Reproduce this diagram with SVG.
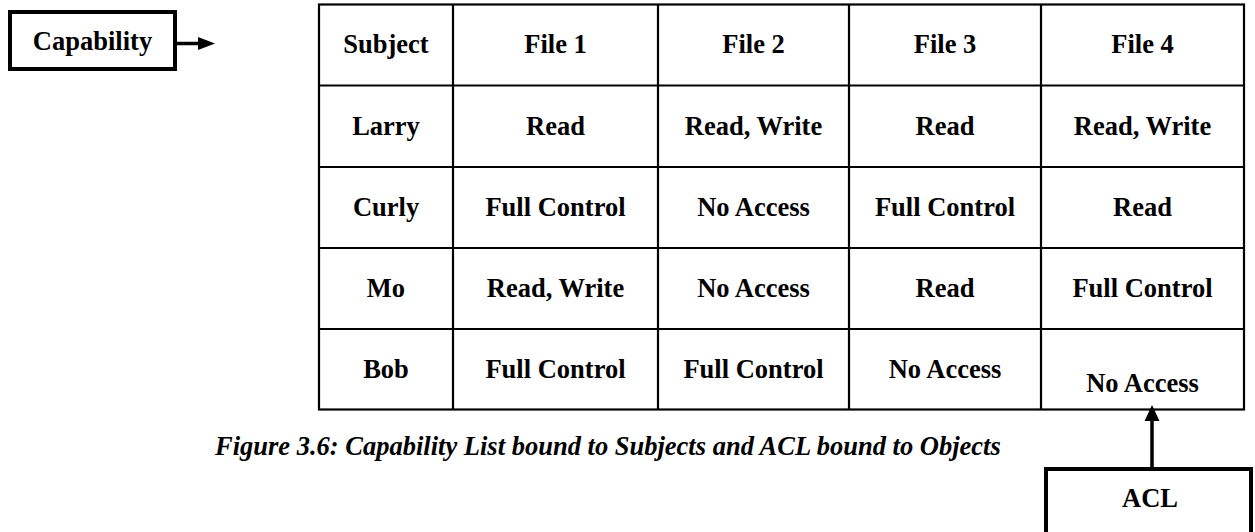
<svg xmlns="http://www.w3.org/2000/svg" width="1255" height="532" viewBox="0 0 1255 532">
  <defs>
    <style>
      text { font-family: "Liberation Serif", "Times New Roman", serif; font-weight: bold; font-size: 26.5px; fill: #000; text-anchor: middle; }
      .caption { font-style: italic; text-anchor: start; }
      .grid { stroke: #000; stroke-width: 2.2; fill: none; }
      .box { fill: #fff; stroke: #000; stroke-width: 4; }
      .wire { stroke: #000; stroke-width: 3.5; fill: none; }
      .tip { fill: #000; stroke: none; }
    </style>
  </defs>

  <rect width="1255" height="532" fill="#fff"/>

  <!-- access matrix -->
  <g id="matrix">
    <rect class="grid" x="319" y="4.5" width="925" height="405"/>
    <path class="grid" d="M453,4.5 V409.5 M658,4.5 V409.5 M849,4.5 V409.5 M1041,4.5 V409.5
                          M319,85.5 H1244 M319,167 H1244 M319,248 H1244 M319,329 H1244"/>
    <g id="header">
      <text x="386" y="53">Subject</text>
      <text x="555.5" y="53">File 1</text>
      <text x="753.5" y="53">File 2</text>
      <text x="945" y="53">File 3</text>
      <text x="1142.5" y="53">File 4</text>
    </g>
    <g id="row-larry">
      <text x="386" y="135">Larry</text>
      <text x="555.5" y="135">Read</text>
      <text x="753.5" y="135">Read, Write</text>
      <text x="945" y="135">Read</text>
      <text x="1142.5" y="135">Read, Write</text>
    </g>
    <g id="row-curly">
      <text x="386" y="216">Curly</text>
      <text x="555.5" y="216">Full Control</text>
      <text x="753.5" y="216">No Access</text>
      <text x="945" y="216">Full Control</text>
      <text x="1142.5" y="216">Read</text>
    </g>
    <g id="row-mo">
      <text x="386" y="297">Mo</text>
      <text x="555.5" y="297">Read, Write</text>
      <text x="753.5" y="297">No Access</text>
      <text x="945" y="297">Read</text>
      <text x="1142.5" y="297">Full Control</text>
    </g>
    <g id="row-bob">
      <text x="386" y="378">Bob</text>
      <text x="555.5" y="378">Full Control</text>
      <text x="753.5" y="378">Full Control</text>
      <text x="945" y="378">No Access</text>
      <text x="1142.5" y="392">No Access</text>
    </g>
  </g>

  <g id="capability">
    <rect class="box" x="10" y="12" width="165" height="57"/>
    <text x="92.5" y="50">Capability</text>
  </g>

  <g id="acl">
    <rect class="box" x="1046" y="469" width="205" height="100"/>
    <text x="1150" y="507">ACL</text>
  </g>

  <g id="caption">
    <text class="caption" x="215" y="455">Figure 3.6: Capability List bound to Subjects and ACL bound to Objects</text>
  </g>

  <!-- connectors: shaft plus solid triangular head -->
  <g id="connectors">
    <line class="wire" x1="177" y1="43.5" x2="200" y2="43.5"/>
    <polygon class="tip" points="198,37 215,43.5 198,50"/>
    <line class="wire" x1="1152" y1="467" x2="1152" y2="418"/>
    <polygon class="tip" points="1144.5,421 1152,405 1159.5,421"/>
  </g>
</svg>
